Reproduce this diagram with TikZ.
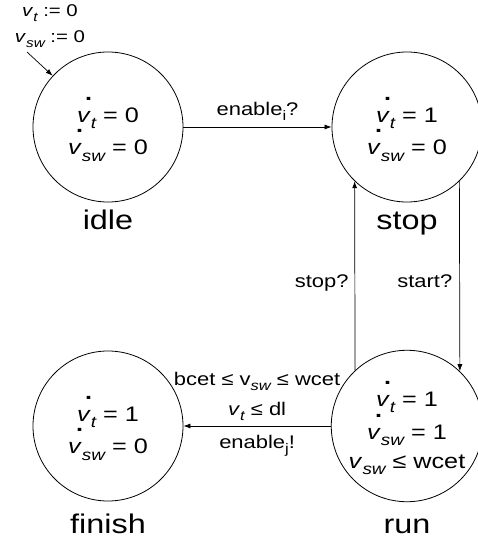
\documentclass[tikz,border=0pt]{standalone}
\usepackage{fontspec}
\setmainfont{Liberation Sans}[FakeStretch=1.2]
\usepackage{graphicx}
\usetikzlibrary{arrows.meta}

% lowered, smaller index (italic and upright)
\newcommand\ix[1]{\raisebox{-0.3em}{\scalebox{0.75}{\itshape #1}}}
\newcommand\ixr[1]{\raisebox{-0.3em}{\scalebox{0.75}{#1}}}
% time derivative: italic v with a dot above
\newcommand\dv{\makebox[0pt][l]{\hspace{0.38em}\raisebox{1.05em}{\textbf{.}}}\textit{v}}
% extra head room for the first line inside a location
\newcommand\headroom{\rule{0pt}{1.4em}}

\tikzset{
  state/.style={draw, circle, minimum size=150pt, inner sep=0pt, line width=0.8pt,
                align=center, font=\fontsize{21}{29}\selectfont},
  sname/.style={anchor=base, inner sep=0pt, font=\fontsize{27}{30}\selectfont},
  elabel/.style={inner sep=0pt, font=\fontsize{18.3}{21}\selectfont},
  ilabel/.style={inner sep=0pt, font=\fontsize{17}{20}\selectfont},
  trans/.style={-{Latex[length=7pt,width=5pt]}, line width=0.7pt},
}

\begin{document}
\begin{tikzpicture}[x=1pt,y=-1pt]
\useasboundingbox (0,0) rectangle (478,541);

% locations
\node[state] (idle)   at (108,127) {\headroom\dv\ix{t} = 0\\ \dv\ix{sw} = 0};
\node[state] (stop)   at (407,127) {\headroom\dv\ix{t} = 1\\ \dv\ix{sw} = 0};
\node[state] (finish) at (108,426) {\headroom\dv\ix{t} = 1\\ \dv\ix{sw} = 0};
\node[state] (run)    at (407,426) {\headroom\dv\ix{t} = 1\\ \dv\ix{sw} = 1\\ \textit{v}\ix{sw} ≤ wcet};

% location names
\node[sname] (idlename)   at (108,229) {idle};
\node[sname] (stopname)   at (407,229) {stop};
\node[sname] (finishname) at (108,533) {finish};
\node[sname] (runname)    at (407,533) {run};

% initial location with its reset
\node[ilabel, anchor=base] (init1) at (50,16) {\textit{v}\ix{t} := 0};
\node[ilabel, anchor=base] (init2) at (50,42) {\textit{v}\ix{sw} := 0};
\coordinate (initpt) at (27,52);
\draw[trans] (initpt) -- (idle);

% transitions
\draw[trans] (idle) -- node[elabel, midway, anchor=base, yshift=12pt] {enable\ixr{i}?} (stop);
\draw[trans] (run.133.9) -- node[elabel, pos=0.463, left=6pt] {stop?} (stop.226.1);
\draw[trans] (stop.-46.1) -- node[elabel, pos=0.527, left=7pt] {start?} (run.46.1);
\draw[trans] (run) --
  node[elabel, midway, anchor=base, yshift=41pt] {bcet ≤ v\ix{sw} ≤ wcet}
  node[elabel, midway, anchor=base, yshift=11pt] {\textit{v}\ix{t} ≤ dl}
  node[elabel, midway, anchor=base, yshift=-22pt] {enable\ixr{j}!}
  (finish);
\end{tikzpicture}
\end{document}
